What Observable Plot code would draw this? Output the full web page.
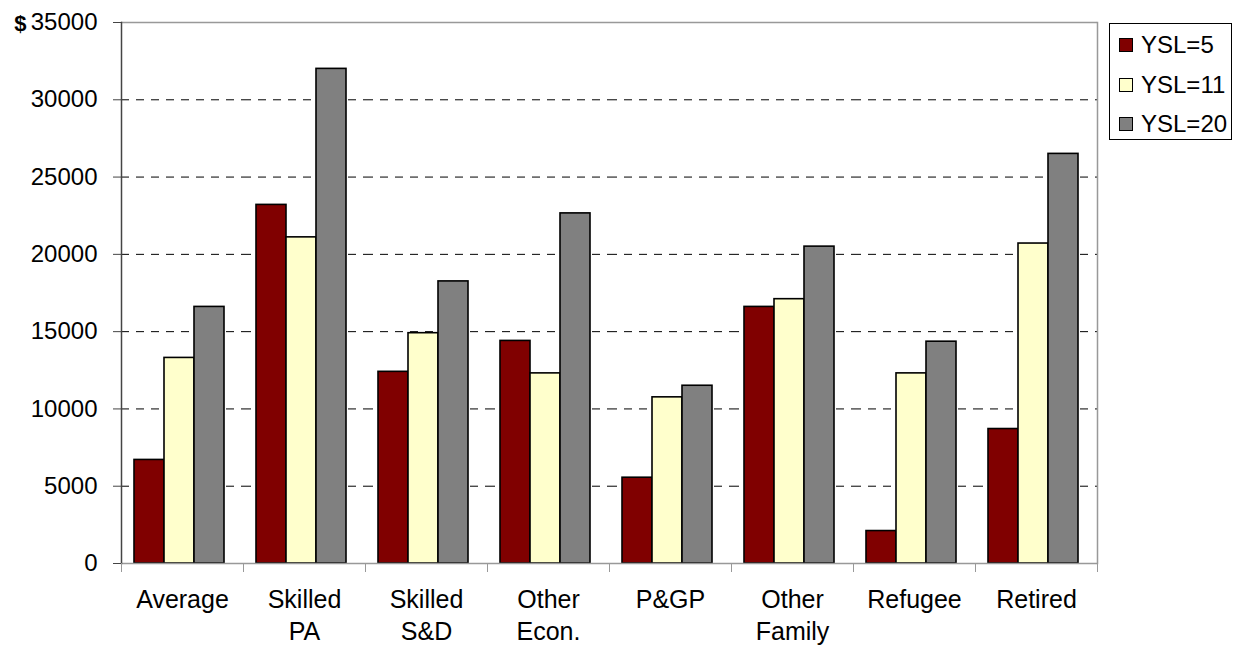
<!DOCTYPE html>
<html>
<head>
<meta charset="utf-8">
<script src="https://cdn.jsdelivr.net/npm/d3@7"></script>
<script src="https://cdn.jsdelivr.net/npm/@observablehq/plot@0.6"></script>
<style>
  html, body { margin: 0; padding: 0; background: #fff; }
  #wrap { position: relative; width: 1235px; height: 646px; font-family: "Liberation Sans", Arial, sans-serif; }
  #legend { position: absolute; left: 1109px; top: 23px; width: 123px; height: 117px; border: 1px solid #000; background: #fff; box-sizing: border-box; }
  .row { position: absolute; left: 9px; display: flex; align-items: center; font-size: 24px; color: #000; height: 30px; }
  .sw { width: 14px; height: 14px; border: 1px solid #000; box-sizing: border-box; margin-right: 8px; }
</style>
</head>
<body>
<div id="wrap"></div>
<script>
const categories = ["Average", "Skilled PA", "Skilled S&D", "Other Econ.", "P&GP", "Other Family", "Refugee", "Retired"];
const series = ["YSL=5", "YSL=11", "YSL=20"];
const ysl5  = [6700, 23200, 12400, 14400, 5550, 16600, 2100, 8700];
const ysl11 = [13300, 21100, 14900, 12300, 10750, 17100, 12300, 20700];
const ysl20 = [16600, 32000, 18250, 22650, 11500, 20500, 14350, 26500];
const yTicks = [0, 5000, 10000, 15000, 20000, 25000, 30000, 35000];
const colors = ["#800000", "#FFFFCC", "#808080"];

const values = [ysl5, ysl11, ysl20];
const table = [];
categories.forEach((c, i) => series.forEach((s, j) => table.push({category: c, series: s, value: values[j][i]})));

const W = 1235, H = 646, ML = 121, MR = 138, MT = 22, MB = 83;
const step = (W - ML - MR) / categories.length;

const plot = Plot.plot({
  width: W, height: H,
  marginLeft: ML, marginRight: MR, marginTop: MT, marginBottom: MB,
  style: {fontFamily: "Liberation Sans, Arial, sans-serif", background: "#fff", overflow: "visible"},
  fx: {domain: categories, padding: 0, axis: null, label: null},
  x: {domain: series, paddingInner: 0, paddingOuter: 0.47, align: 0.42, axis: null},
  y: {domain: [0, 35000], axis: null},
  color: {domain: series, range: colors},
  marks: [
    Plot.ruleY(yTicks.slice(1, -1), {stroke: "#000", strokeWidth: 1, strokeDasharray: "8,7"}),
    Plot.barY(table, {fx: "category", x: "series", y: "value", fill: "series", stroke: "#000", strokeWidth: 1.6}),
    Plot.ruleY([35000], {stroke: "#999", strokeWidth: 1.5}),
    Plot.ruleY([0], {stroke: "#999", strokeWidth: 1.5}),
    Plot.frame({facet: "super", anchor: "right", stroke: "#999", strokeWidth: 1.5}),
    Plot.frame({facet: "super", anchor: "left", stroke: "#444", strokeWidth: 1.5}),
    Plot.axisY({ticks: yTicks, tickSize: 8, tickPadding: 16, fontSize: 24, tickFormat: d3.format("d"), stroke: "#444", fill: "#000", label: null}),
    Plot.axisFx({anchor: "bottom", tickSize: 0, tickPadding: 21, fontSize: 25, lineHeight: 1.3, fill: "#000", tickFormat: d => d.replace(" ", "\n"), label: null}),
    Plot.axisFx({anchor: "bottom", tickSize: 9, stroke: "#999", tickFormat: () => "", label: null, dx: -step / 2}),
    Plot.axisFx({anchor: "bottom", ticks: [categories[categories.length - 1]], tickSize: 9, stroke: "#999", tickFormat: () => "", label: null, dx: step / 2}),
    Plot.text(["$"], {facet: "super", text: d => d, frameAnchor: "top-left", textAnchor: "end", lineAnchor: "middle", dx: -95, dy: 1, fontWeight: "bold", fontSize: 22, fill: "#000"})
  ]
});

const wrap = document.getElementById("wrap");
wrap.appendChild(plot);

const color = plot.scale("color");
const legend = document.createElement("div");
legend.id = "legend";
const tops = [6, 46, 85];
series.forEach((s, i) => {
  const row = document.createElement("div");
  row.className = "row";
  row.style.top = tops[i] + "px";
  const sw = document.createElement("div");
  sw.className = "sw";
  sw.style.background = color.apply(s);
  const t = document.createElement("span");
  t.textContent = s;
  row.appendChild(sw);
  row.appendChild(t);
  legend.appendChild(row);
});
wrap.appendChild(legend);
</script>
</body>
</html>
